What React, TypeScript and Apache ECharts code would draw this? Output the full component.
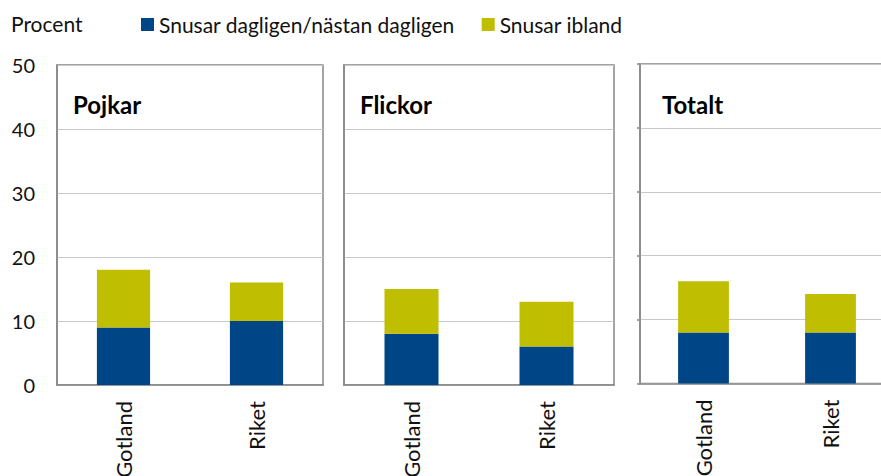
import React, { useEffect, useRef } from "react";
import * as echarts from "echarts";

const categories = ["Gotland", "Riket"];
const panelTitles = ["Pojkar", "Flickor", "Totalt"];
const seriesNames = ["Snusar dagligen/nästan dagligen", "Snusar ibland"];
const dailyPojkar = [9, 10];
const occasionalPojkar = [9, 6];
const dailyFlickor = [8, 6];
const occasionalFlickor = [7, 7];
const dailyTotalt = [8, 8];
const occasionalTotalt = [8, 6];
const yTicks = [0, 10, 20, 30, 40, 50];

const FONT = "Lato, 'Liberation Sans', sans-serif";
const BLUE = "#004585";
const YELLOW = "#bfbe00";
const AXIS = "#878787";
const GRID = "#c8c8c8";

export default function App() {
  const ref = useRef<HTMLDivElement>(null);
  useEffect(() => {
    if (!ref.current) return;
    const chart = echarts.init(ref.current, undefined, { renderer: "svg" });
    const grids: any[] = [
      { left: 57, top: 65, width: 266, height: 320 },
      { left: 344, top: 65, width: 270, height: 320 },
      { left: 640, top: 64, width: 254, height: 319.5 },
    ];
    const daily = [dailyPojkar, dailyFlickor, dailyTotalt];
    const occasional = [occasionalPojkar, occasionalFlickor, occasionalTotalt];
    const titleX = [73, 360, 662];

    const option: any = {
      animation: false,
      textStyle: { fontFamily: FONT },
      legend: {
        data: seriesNames,
        left: 136,
        top: 9,
        itemWidth: 13,
        itemHeight: 13,
        itemGap: 27,
        icon: "rect",
        textStyle: { fontFamily: FONT, fontSize: 21, color: "#111" },
        selectedMode: false,
      },
      graphic: [
        {
          type: "text",
          left: 11,
          top: 13,
          style: { text: "Procent", fontFamily: FONT, fontSize: 21, fill: "#111" },
        },
        ...panelTitles.map((t, i) => ({
          type: "text",
          x: titleX[i],
          y: 104,
          style: {
            text: t,
            fontFamily: FONT,
            fontSize: 24,
            fontWeight: "bold",
            fill: "#000",
            verticalAlign: "middle",
          },
        })),
      ],
      grid: grids.map((g) => ({
        ...g,
        show: true,
        borderColor: AXIS,
        borderWidth: 1.5,
        backgroundColor: "transparent",
        containLabel: false,
        outerBoundsMode: "none",
      })),
      xAxis: grids.map((_, i) => ({
        type: "category",
        gridIndex: i,
        data: categories,
        axisLine: { show: true, lineStyle: { color: AXIS, width: 1.5 } },
        axisTick: { show: false },
        axisLabel: {
          rotate: 90,
          margin: 16,
          fontSize: 22,
          fontFamily: FONT,
          color: "#111",
          interval: 0,
        },
      })),
      yAxis: grids.map((_, i) => ({
        type: "value",
        gridIndex: i,
        min: yTicks[0],
        max: yTicks[yTicks.length - 1],
        interval: 10,
        axisLine: { show: true, lineStyle: { color: AXIS, width: 1.5 } },
        axisTick: {
          show: i === 2,
          length: 3,
          lineStyle: { color: AXIS, width: 1.5 },
        },
        splitLine: { show: true, lineStyle: { color: GRID, width: 1 } },
        axisLabel: {
          show: i === 0,
          margin: 22,
          fontSize: 20,
          fontFamily: FONT,
          color: "#111",
        },
      })),
      series: grids.flatMap((_, i) => [
        {
          name: seriesNames[0],
          type: "bar",
          stack: "s" + i,
          xAxisIndex: i,
          yAxisIndex: i,
          barWidth: "40%",
          itemStyle: { color: BLUE },
          data: daily[i],
        },
        {
          name: seriesNames[1],
          type: "bar",
          stack: "s" + i,
          xAxisIndex: i,
          yAxisIndex: i,
          barWidth: "40%",
          itemStyle: { color: YELLOW },
          data: occasional[i],
        },
      ]),
    };
    chart.setOption(option);
    return () => chart.dispose();
  }, []);
  return (
    <div
      ref={ref}
      style={{ position: "fixed", left: 0, top: 0, width: 881, height: 476, background: "#fff" }}
    />
  );
}
